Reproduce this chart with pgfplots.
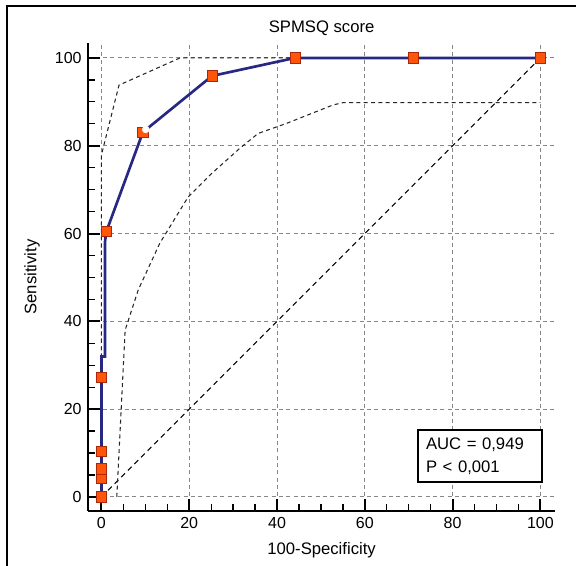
\documentclass[border=0pt]{standalone}
\usepackage{fontspec}
\setmainfont{Liberation Sans}
\usepackage{pgfplots}
\pgfplotsset{compat=1.18}
\definecolor{rocBlue}{RGB}{40,40,130}
\definecolor{mkFill}{RGB}{255,85,10}
\definecolor{mkEdge}{RGB}{170,40,10}
\definecolor{gridGray}{RGB}{135,135,135}

\begin{document}
\begin{tikzpicture}
\begin{axis}[
  scale only axis, width=350pt, height=351pt,
  xmin=-3, xmax=103.3, ymin=-3.2, ymax=103.4,
  axis x line=bottom, axis y line=left,
  axis line style={-, line width=1.5pt, black},
  xtick={0,20,...,100}, ytick={0,20,...,100},
  minor x tick num=3, minor y tick num=3,
  tick align=inside,
  major tick length=9pt, minor tick length=5pt,
  major tick style={line width=1.5pt, black},
  minor tick style={line width=1pt, black},
  grid=major,
  major grid style={gridGray, line width=0.75pt, dash pattern=on 3pt off 2.5pt},
  tick label style={font=\fontsize{12}{14}\selectfont},
  /pgf/number format/assume math mode=true,
  xticklabel style={yshift=-1.3pt},
  yticklabel style={xshift=-1.5pt},
  every axis title shift=0pt,
  title={SPMSQ score},
  title style={at={(axis description cs:0.5,1.0214)}, anchor=base, font=\fontsize{12.5}{15}\selectfont},
  xlabel={100-Specificity},
  xlabel style={at={(axis description cs:0.5,-0.0919)}, anchor=base, font=\fontsize{12.5}{15}\selectfont},
  ylabel={Sensitivity},
  ylabel style={at={(axis description cs:-0.1206,0.5)}, anchor=center, font=\fontsize{12.5}{15}\selectfont},
]
% reference diagonal
\addplot[black, line width=0.7pt, dash pattern=on 4pt off 3pt] coordinates {(0,0) (100,100)};
% confidence bounds
\addplot[black!85, line width=0.8pt, dash pattern=on 3pt off 2.5pt] coordinates {
  (0,0) (0,77.9) (4,93.8) (17.9,100) (100,100)};
\addplot[black!85, line width=0.8pt, dash pattern=on 3pt off 2.5pt] coordinates {
  (3.5,0) (5.4,38) (8.4,47.2) (13.3,57.8) (19.8,68.4) (24.7,73.3) (31.5,79.4)
  (35.7,82.8) (42.2,85.1) (52.8,89.3) (55,89.8) (100,89.8)};
% ROC curve
\addplot[rocBlue, line width=2pt] coordinates {
  (0,0) (0,4.3) (0,6.4) (0,10.4) (0,27.2) (0,32) (0.8,32) (0.8,58) (1.1,60.4)
  (9.45,83.1) (25.2,95.9) (44.1,100) (71,100) (100,100)};
\addplot[only marks, mark=square*, mark size=3.8pt,
  mark options={fill=mkFill, draw=mkEdge, line width=0.6pt}] coordinates {
  (0,0) (0,4.3) (0,6.4) (0,10.4) (0,27.2) (1.1,60.4)
  (9.45,83.1) (25.2,95.9) (44.1,100) (71,100) (100,100)};
\addplot[only marks, mark=*, mark size=2.6pt, mark options={fill=white, draw=white!90!orange}]
  coordinates {(10.1,83.7)};
\node[draw=black, line width=1.5pt, fill=white, anchor=north west,
  minimum width=93pt, minimum height=39pt, text width=81pt, inner xsep=6pt,
  align=left, font=\fontsize{12.5}{17.25}\selectfont]
  at (axis cs:71.9,15.5) {AUC = 0,949\\P < 0,001};
\end{axis}
\pgfresetboundingbox
\useasboundingbox (-66.2pt,-41.25pt) rectangle (365.8pt,383.25pt);
\draw[line width=1.6pt] (-61pt,-42pt) -- (-61pt,378.5pt) -- (366pt,378.5pt);
\end{tikzpicture}
\end{document}
